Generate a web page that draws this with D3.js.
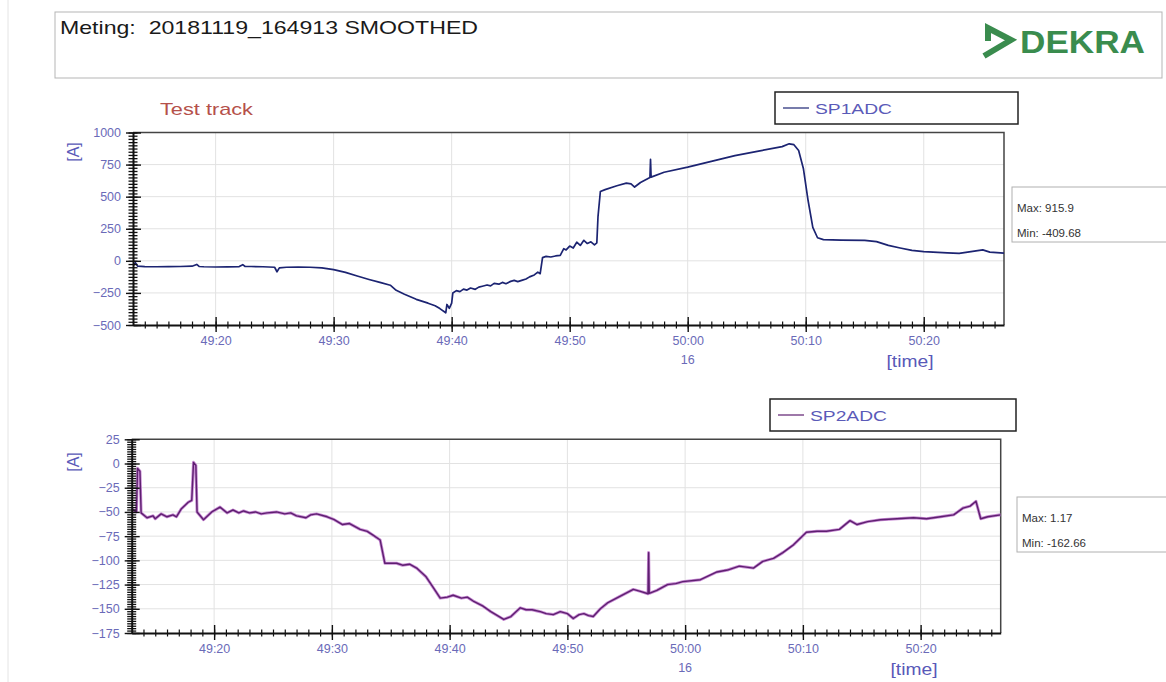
<!DOCTYPE html>
<html lang="nl">
<head>
<meta charset="UTF-8">
<script src="https://d3js.org/d3.v7.min.js"></script>
<title>SP1ADC / SP2ADC</title>
<style>
  body { margin: 0; background: #fff; }
  svg text { font-family: "Liberation Sans", Arial, sans-serif; }
</style>
</head>
<body>
<div id="chart"></div>
<script>
// seconds after 16:49:00, current in [A]
var sp1 = [
  [13.0,-40],[13.2,-15],[13.4,-42],[14,-45],[15,-46],[16,-45],[17,-44],[18,-42],[18.4,-28],[18.6,-44],
  [19,-46],[20,-48],[21,-47],[22,-45],[22.3,-30],[22.5,-44],[23,-44],[24,-46],[25,-50],[25.2,-85],
  [25.4,-55],[26,-50],[27,-49],[28,-50],[29,-55],[30,-68],[31,-90],[32,-118],[33,-145],[34,-170],
  [34.8,-190],[35.3,-230],[36,-260],[37,-300],[38,-330],[38.6,-350],[39,-372],[39.5,-405],[39.6,-340],[39.8,-370],
  [40.0,-330],[40.1,-250],[40.4,-232],[40.7,-240],[41,-220],[41.3,-228],[41.6,-212],[42,-222],[42.3,-205],[42.6,-198],
  [43,-188],[43.3,-195],[43.6,-176],[44,-182],[44.3,-168],[44.6,-178],[45,-160],[45.3,-152],[45.6,-162],[46,-150],
  [46.3,-142],[46.6,-125],[47,-110],[47.3,-88],[47.5,-100],[47.7,25],[48,35],[48.4,30],[48.8,38],[49.2,42],
  [49.5,95],[49.7,85],[50,115],[50.3,100],[50.6,145],[50.9,120],[51.2,160],[51.5,135],[51.8,148],[52.1,125],
  [52.3,140],[52.4,345],[52.6,540],[53,555],[54,585],[54.8,605],[55.2,600],[55.5,575],[56,610],[56.8,650],
  [56.85,790],[56.9,652],[58,690],[60,730],[62,775],[64,820],[66,855],[68,890],[68.6,912],[69.0,905],
  [69.4,860],[69.8,720],[70.2,470],[70.6,260],[71,180],[71.5,165],[73,162],[75,160],[76,150],[77,120],
  [78,100],[79,82],[80,72],[82,62],[83,58],[84,72],[85,85],[85.6,68],[86.8,60]
];
var sp2 = [
  [13.0,-47],[13.4,-50],[13.5,-5],[13.7,-8],[13.8,-51],[14.3,-56],[14.8,-54],[15,-57],[15.5,-52],[16,-55],
  [16.5,-53],[16.8,-55],[17.2,-47],[17.8,-40],[18.1,-38],[18.25,1.2],[18.45,-2],[18.55,-50],[19.1,-58],[19.8,-50],
  [20.5,-45],[21.1,-51],[21.6,-48],[22.1,-51],[22.5,-49],[23,-51],[23.5,-50],[24,-52],[24.5,-51],[25.3,-50],
  [26,-52],[26.5,-51],[27,-54],[27.8,-56],[28.2,-53],[28.7,-52],[29.6,-55],[30.2,-58],[30.9,-63],[31.5,-62],
  [32.4,-68],[33,-70],[33.5,-74],[34.1,-79],[34.5,-103],[35.5,-103],[36,-105],[36.6,-104],[37.2,-108],[38,-117],
  [38.6,-128],[39.2,-139],[39.8,-138],[40.3,-136],[41,-139],[41.5,-138],[42,-142],[42.8,-147],[43.5,-153],[44.6,-161],
  [45.2,-158],[46,-149],[46.5,-151],[47,-151],[47.7,-153],[48.2,-155],[48.8,-156],[49.4,-153],[50,-155],[50.5,-160],
  [51,-156],[51.4,-155],[51.8,-157],[52.2,-158],[52.8,-150],[53.4,-144],[54.5,-137],[55.6,-130],[56.2,-132],[56.85,-134.5],
  [56.9,-92],[56.95,-134],[57.6,-131],[58.5,-125],[59.2,-124],[59.8,-122],[61.3,-120],[62.7,-112],[63.6,-110],[64.6,-106],
  [65.8,-108],[66.6,-101],[67.5,-98],[68.3,-92],[69.2,-84],[70.3,-71],[71.2,-70],[72,-70],[73.1,-68],[74,-59],
  [74.6,-63],[75.5,-60],[76.6,-58],[78,-57],[79.4,-56],[80.5,-57],[81.7,-55],[82.8,-53],[83.6,-46],[84.2,-44],
  [84.7,-39],[85.1,-57],[85.7,-55],[86.8,-53]
];

var xStart = 13.0, xEnd = 86.8;
var xMajorSec = [20, 30, 40, 50, 60, 70, 80];
var sp1Ticks = [-500, -250, 0, 250, 500, 750, 1000];
var sp2Ticks = [-175, -150, -125, -100, -75, -50, -25, 0, 25];

var sp1Stats = ["Max: 915.9", "Min: -409.68"];
var sp2Stats = ["Max: 1.17", "Min: -162.66"];

function toTime(s) { return new Date(2018, 10, 19, 16, 49, 0, Math.round(s * 1000)); }

var svg = d3.select("#chart").append("svg")
  .attr("width", 1166).attr("height", 682);

var tickBlue = "#6a6ab8";

// header
svg.append("line").attr("x1", 8).attr("x2", 8).attr("y1", 0).attr("y2", 682)
  .attr("stroke", "#e4e4e4");
svg.append("rect").attr("x", 55).attr("y", 12).attr("width", 1107).attr("height", 66)
  .attr("fill", "none").attr("stroke", "#b5b5b5");
svg.append("text").attr("x", 60).attr("y", 34).attr("font-size", 19).attr("fill", "#1a1a1a")
  .attr("textLength", 418).attr("lengthAdjust", "spacingAndGlyphs")
  .text("Meting:\u00a0\u00a020181119_164913 SMOOTHED");
svg.append("path").attr("d", "M988,41 L988,28 L1011,40 L984,56")
  .attr("fill", "none").attr("stroke", "#3a8c4e").attr("stroke-width", 6)
  .attr("stroke-linejoin", "miter");
svg.append("text").attr("x", 1020).attr("y", 53).attr("font-size", 32).attr("font-weight", "bold")
  .attr("fill", "#3a8c4e").attr("textLength", 125).attr("lengthAdjust", "spacingAndGlyphs")
  .text("DEKRA");
svg.append("text").attr("x", 160).attr("y", 115).attr("font-size", 17).attr("fill", "#b5504a")
  .attr("textLength", 93).attr("lengthAdjust", "spacingAndGlyphs")
  .text("Test track");

function panel(p) {
  var x = d3.scaleTime().domain([toTime(xStart), toTime(xEnd)]).range([p.x0, p.x1]);
  var y = d3.scaleLinear().domain([p.ticks[0], p.ticks[p.ticks.length - 1]]).range([p.y1, p.y0]);
  var g = svg.append("g");

  // grid
  g.selectAll(".hg").data(p.ticks.slice(1, -1)).enter().append("line")
    .attr("x1", p.x0).attr("x2", p.x1)
    .attr("y1", function(d) { return y(d); }).attr("y2", function(d) { return y(d); })
    .attr("stroke", "#e2e2e2");
  g.selectAll(".vg").data(xMajorSec).enter().append("line")
    .attr("x1", function(d) { return x(toTime(d)); }).attr("x2", function(d) { return x(toTime(d)); })
    .attr("y1", p.y0).attr("y2", p.y1)
    .attr("stroke", "#e2e2e2");

  // frame top / right
  g.append("path").attr("d", "M" + p.x0 + "," + p.y0 + "H" + p.x1 + "V" + p.y1)
    .attr("fill", "none").attr("stroke", "#444").attr("stroke-width", 1.5);

  // series
  var clipId = "clip" + p.name;
  svg.append("clipPath").attr("id", clipId).append("rect")
    .attr("x", p.x0).attr("y", p.y0 - 2).attr("width", p.x1 - p.x0).attr("height", p.y1 - p.y0 + 2);
  var line = d3.line()
    .x(function(d) { return x(toTime(d[0])); })
    .y(function(d) { return y(d[1]); });
  if (p.halo) {
    g.append("path").datum(p.data).attr("clip-path", "url(#" + clipId + ")")
      .attr("d", line).attr("fill", "none").attr("stroke", p.halo).attr("stroke-width", 3)
      .attr("stroke-linejoin", "round");
  }
  g.append("path").datum(p.data).attr("clip-path", "url(#" + clipId + ")")
    .attr("d", line).attr("fill", "none").attr("stroke", p.color).attr("stroke-width", p.width)
    .attr("stroke-linejoin", "round");

  // y axis: minor + major ticks crossing the axis
  var minor = d3.range(p.ticks[0], p.ticks[p.ticks.length - 1] + 1e-6, p.minorStep);
  var ym = g.append("g").attr("transform", "translate(" + p.x0 + ",0)")
    .call(d3.axisLeft(y).tickValues(minor).tickSize(4.5).tickFormat(""));
  ym.selectAll("line").attr("x1", 4.5).attr("stroke", "#111").attr("stroke-width", 1.3);
  ym.select(".domain").remove();
  var yM = g.append("g").attr("transform", "translate(" + p.x0 + ",0)")
    .call(d3.axisLeft(y).tickValues(p.ticks).tickSize(7).tickSizeOuter(0).tickPadding(5)
      .tickFormat(d3.format("d")));
  yM.selectAll("line").attr("x1", 8).attr("stroke", "#111").attr("stroke-width", 1.4);
  yM.select(".domain").attr("stroke", "#111").attr("stroke-width", 2);
  yM.selectAll("text").attr("fill", tickBlue).attr("font-size", 12.5)
    .style("font-family", "'Liberation Sans', Arial, sans-serif");

  // x axis
  var xMinor = d3.range(14, 87, 1).map(toTime);
  var xm = g.append("g").attr("transform", "translate(0," + p.y1 + ")")
    .call(d3.axisBottom(x).tickValues(xMinor).tickSize(3.5).tickFormat(""));
  xm.selectAll("line").attr("y1", -3.5).attr("stroke", "#111").attr("stroke-width", 1.2);
  xm.select(".domain").remove();
  var xM = g.append("g").attr("transform", "translate(0," + p.y1 + ")")
    .call(d3.axisBottom(x).tickValues(xMajorSec.map(toTime)).tickSize(7).tickSizeOuter(0)
      .tickPadding(4).tickFormat(d3.timeFormat("%M:%S")));
  xM.selectAll("line").attr("y1", -8).attr("stroke", "#111").attr("stroke-width", 1.4);
  xM.select(".domain").attr("stroke", "#111").attr("stroke-width", 2);
  xM.selectAll("text").attr("fill", tickBlue).attr("font-size", 12.5)
    .style("font-family", "'Liberation Sans', Arial, sans-serif");

  svg.append("text").attr("x", x(toTime(60))).attr("y", p.y1 + 39).attr("text-anchor", "middle")
    .attr("font-size", 12.5).attr("fill", tickBlue).text("16");
  svg.append("text").attr("x", p.timeX).attr("y", p.y1 + 42).attr("text-anchor", "middle")
    .attr("font-size", 16).attr("fill", "#5858b8").attr("textLength", 47)
    .attr("lengthAdjust", "spacingAndGlyphs").text("[time]");
  svg.append("text").attr("transform", "translate(" + 79 + "," + p.aY + ") rotate(-90)")
    .attr("text-anchor", "middle").attr("font-size", 16).attr("fill", "#5858b8").text("[A]");

  // legend box
  svg.append("rect").attr("x", p.lx).attr("y", p.ly).attr("width", p.lw).attr("height", 32)
    .attr("fill", "#fff").attr("stroke", "#222").attr("stroke-width", 1.5);
  svg.append("line").attr("x1", p.lx + 8).attr("x2", p.lx + 34).attr("y1", p.ly + 16).attr("y2", p.ly + 16)
    .attr("stroke", p.color).attr("stroke-width", 1.2);
  svg.append("text").attr("x", p.lx + 40).attr("y", p.ly + 22).attr("font-size", 15)
    .attr("fill", "#5a5ab8").attr("textLength", 77).attr("lengthAdjust", "spacingAndGlyphs")
    .text(p.name);

  // stats box
  svg.append("rect").attr("x", p.sx).attr("y", p.sy).attr("width", 170).attr("height", 55)
    .attr("fill", "#fff").attr("stroke", "#b0b0b0");
  svg.selectAll(".st" + p.name).data(p.stats).enter().append("text")
    .attr("x", p.sx + 5).attr("y", function(d, i) { return p.sy + 25 + i * 25; })
    .attr("font-size", 11.5).attr("fill", "#333").text(function(d) { return d; });
}

panel({ name: "SP1ADC", data: sp1, ticks: sp1Ticks, minorStep: 25,
  x0: 133, x1: 1004, y0: 132.5, y1: 325, color: "#1c2472", width: 1.7, halo: null,
  timeX: 910, aY: 152, lx: 775, ly: 92, lw: 243, sx: 1012, sy: 187, stats: sp1Stats });
panel({ name: "SP2ADC", data: sp2, ticks: sp2Ticks, minorStep: 2.5,
  x0: 131.7, x1: 1000.7, y0: 439.3, y1: 633, color: "#5e1f70", width: 1.4, halo: "#c689d2",
  timeX: 914, aY: 462, lx: 770, ly: 399, lw: 246, sx: 1017, sy: 497, stats: sp2Stats });
</script>
</body>
</html>
